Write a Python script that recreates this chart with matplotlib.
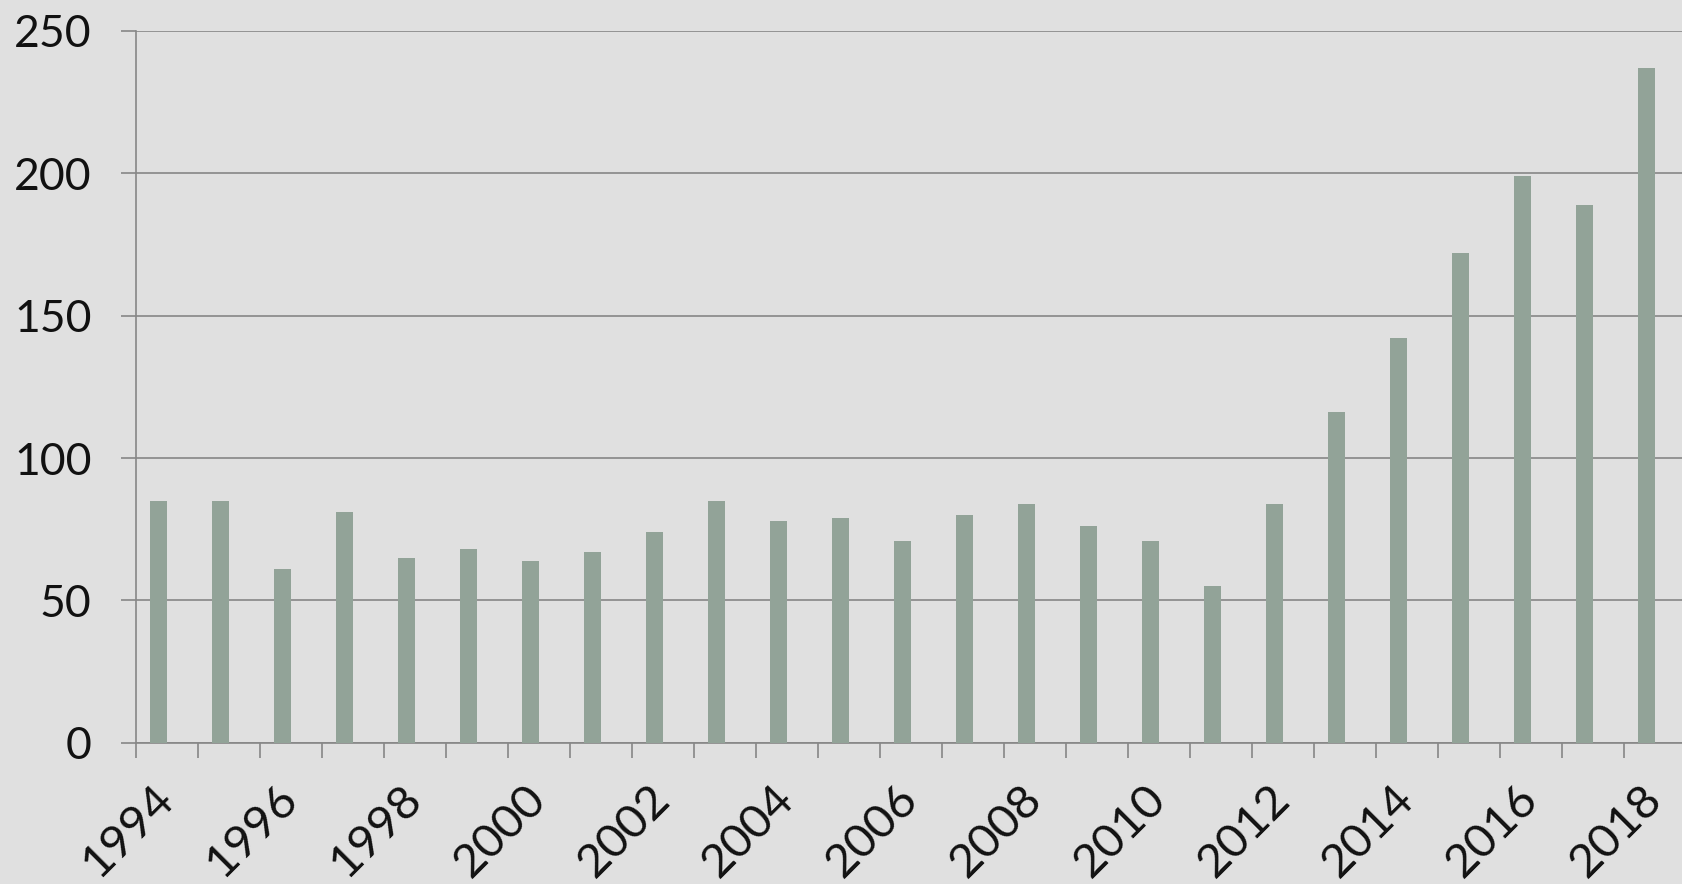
import matplotlib
matplotlib.use("Agg")
import matplotlib.pyplot as plt
import numpy as np

years = list(range(1994, 2019))
values = [85, 85, 61, 81, 65, 68, 64, 67, 74, 85, 78, 79, 71, 80, 84, 76, 71, 55,
          84, 116, 142, 172, 199, 189, 237]
y_ticks = [0, 50, 100, 150, 200, 250]

bg = "#e0e0e0"
bar_color = "#92a398"
grid_color = "#878787"
text_color = "#111111"

plt.rcParams['font.family'] = ['Lato', 'DejaVu Sans']

fig = plt.figure(figsize=(16.82, 8.84), dpi=100, facecolor=bg)
ax = fig.add_axes([136 / 1682, 1 - 742.7 / 884, 1550 / 1682, (742.7 - 31) / 884])
ax.set_facecolor(bg)

idx = np.arange(len(years))
w = 17 / 62
ax.bar(idx - w / 2, values, width=w, color=bar_color, zorder=3)

ax.set_xlim(-0.5, len(years) - 0.5)
ax.set_ylim(0, 250)
ax.set_yticks(y_ticks)
ax.set_yticklabels([str(v) for v in y_ticks])
ax.yaxis.grid(True, color=grid_color, linewidth=1.2, zorder=1)
ax.set_axisbelow(True)

for s in ["top", "right"]:
    ax.spines[s].set_visible(False)
for s in ["left", "bottom"]:
    ax.spines[s].set_color(grid_color)
    ax.spines[s].set_linewidth(1.2)

ax.tick_params(axis='y', length=11, width=1.2, color=grid_color, pad=21,
               labelsize=32, labelcolor=text_color)

boundaries = np.arange(len(years) + 1) - 0.5
ax.set_xticks(boundaries)
ax.set_xticklabels([])
ax.tick_params(axis='x', which='major', length=11, width=1.2, color=grid_color)

centers = idx[::2]
ax.set_xticks(centers, minor=True)
ax.set_xticklabels([str(years[i]) for i in centers], minor=True, rotation=45,
                   ha='right', va='center', rotation_mode='anchor')
ax.tick_params(axis='x', which='minor', length=0, pad=36, labelsize=34,
               labelcolor=text_color)

fig.savefig("out.png", dpi=100, facecolor=bg)
